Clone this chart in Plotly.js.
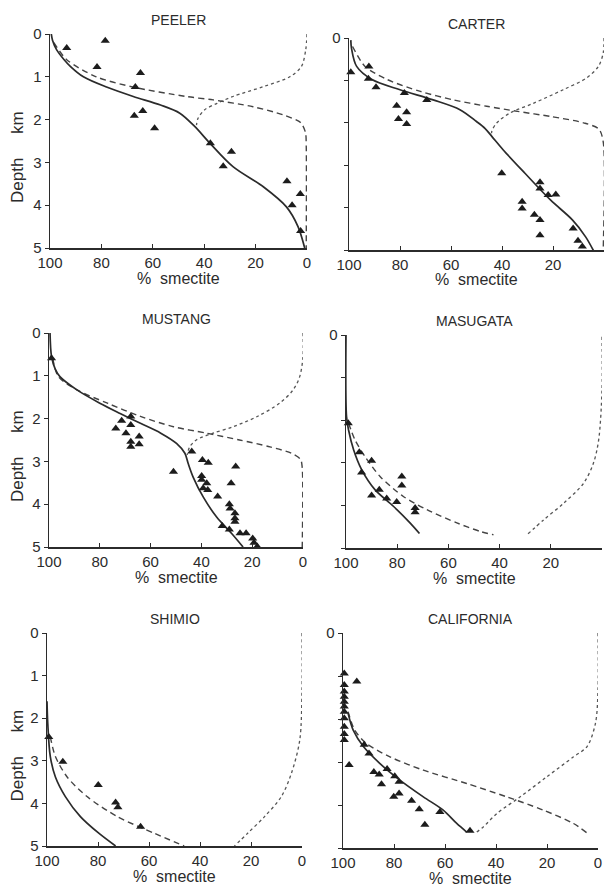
<!DOCTYPE html>
<html><head><meta charset="utf-8">
<script src="https://cdn.plot.ly/plotly-3.0.1.min.js"></script>
<style>html,body{margin:0;padding:0;background:#fff}</style>
</head><body><div id="chart" style="width:606px;height:886px"></div>
<script>
// ---------- data ----------
const panelNames = ["PEELER","CARTER","MUSTANG","MASUGATA","SHIMIO","CALIFORNIA"];
const pctTicks = [100,80,60,40,20,0];
const pctTickText = ["100","80","60","40","20","0"];
const depthTicks = [0,1,2,3,4,5];
const depthTickText = ["0","1","2","3","4","5"];
const xAxisLabel = "%\u00a0\u00a0smectite";
const yAxisLabel = "Depth\u00a0\u00a0\u00a0\u00a0\u00a0km";

const peelerPtsPct   = [93.5, 78.5, 81.7, 64.8, 66.8, 63.9, 67.2, 59.3, 37.6, 29.4, 32.6, 7.8, 2.6, 5.8, 2.5];
const peelerPtsDepth = [0.33, 0.16, 0.77, 0.91, 1.24, 1.80, 1.91, 2.20, 2.55, 2.75, 3.09, 3.44, 3.74, 4.00, 4.60];
const peelerSolidPct   = [99.5, 99, 97.4, 94.5, 92, 87, 78, 67.6, 57, 49.5, 43.7, 37.8, 28.8, 17, 8, 3.5, 0.9];
const peelerSolidDepth = [0, 0.15, 0.37, 0.6, 0.76, 1.0, 1.24, 1.46, 1.66, 1.85, 2.16, 2.55, 3.1, 3.57, 4.04, 4.5, 5.0];
const peelerDashPct   = [98.5, 93.5, 82, 67.6, 47, 36.5, 21, 9.3, 2.5, 0.6, 0.3, 0.3];
const peelerDashDepth = [0.2, 0.6, 1.0, 1.24, 1.46, 1.54, 1.7, 1.89, 2.07, 2.3, 2.6, 5.0];
const peelerDotPct   = [0, 0.5, 2.2, 6.7, 17, 28.8, 35, 39.8, 42.4, 43];
const peelerDotDepth = [0, 0.37, 0.76, 1.0, 1.23, 1.46, 1.62, 1.77, 1.97, 2.13];

const carterPtsPct   = [92.2, 99.3, 92.4, 89.4, 78.3, 69.5, 81.3, 77.4, 80.6, 77.4, 40.1, 25.1, 25.1, 21.9, 18.9, 32.1, 32.1, 27.3, 25.1, 25.1, 12.1, 10.2, 8.5, 6.3, 4.6];
const carterPtsDepth = [0.67, 0.81, 0.96, 1.16, 1.30, 1.46, 1.60, 1.75, 1.91, 2.03, 3.19, 3.40, 3.55, 3.70, 3.69, 3.86, 4.02, 4.17, 4.29, 4.65, 4.49, 4.78, 4.92, 5.08, 5.24];
const carterSolidPct   = [99.3, 99, 97, 91, 80, 67, 56.5, 50, 46.7, 44, 39.5, 31, 21, 12.4, 7.2, 3.9];
const carterSolidDepth = [0.05, 0.25, 0.67, 0.98, 1.22, 1.46, 1.69, 1.97, 2.13, 2.32, 2.64, 3.19, 3.82, 4.29, 4.69, 5.04];
const carterDashPct   = [98.6, 93.7, 85, 72, 59, 46, 34, 21, 8, 2, 0.3, 0.3];
const carterDashDepth = [0.2, 0.67, 0.98, 1.26, 1.46, 1.61, 1.73, 1.85, 2.0, 2.15, 2.45, 5.0];
const carterDotPct   = [0, 0.3, 2.2, 6.8, 16, 27.7, 36.9, 42, 44, 44];
const carterDotDepth = [0, 0.35, 0.67, 0.94, 1.22, 1.54, 1.77, 2.0, 2.2, 2.32];

const mustangPtsPct   = [99, 67.8, 71.4, 67.8, 73.7, 69.7, 64.5, 67.8, 64.5, 67.8, 43.8, 39.6, 37.3, 26.5, 51, 39.9, 39.9, 37.9, 28.3, 39.3, 37.5, 33.6, 29, 28.7, 26.8, 26.8, 26.8, 31.8, 29, 24.8, 22.4, 19.8, 19.3, 18, 22.8, 20.2];
const mustangPtsDepth = [0.59, 1.95, 2.05, 2.15, 2.23, 2.34, 2.42, 2.54, 2.60, 2.66, 2.77, 2.97, 3.03, 3.12, 3.24, 3.34, 3.43, 3.51, 3.51, 3.63, 3.67, 3.82, 4.0, 4.10, 4.21, 4.33, 4.41, 4.51, 4.59, 4.68, 4.68, 4.80, 4.90, 4.99, 5.15, 5.23];
const mustangSolidPct   = [99.6, 99, 97.5, 95.7, 89, 80, 72, 64, 56, 49.8, 46.5, 45.2, 43.3, 39.3, 34, 28, 23.6];
const mustangSolidDepth = [0, 0.55, 0.85, 1.02, 1.33, 1.64, 1.88, 2.11, 2.34, 2.58, 2.81, 3.05, 3.36, 3.83, 4.3, 4.69, 5.0];
const mustangDashPct   = [98.5, 96.3, 89, 77, 64, 51, 38, 25, 13, 4.6, 1, 0.3, 0.3];
const mustangDashDepth = [0.6, 1.02, 1.33, 1.64, 1.95, 2.19, 2.34, 2.5, 2.66, 2.81, 2.95, 3.15, 5.0];
const mustangDotPct   = [0, 0, 1.3, 3.9, 9.2, 18, 27.5, 35.4, 42, 44.6, 45.6];
const mustangDotDepth = [0, 0.55, 1.02, 1.33, 1.64, 1.95, 2.19, 2.34, 2.5, 2.66, 2.85];

const masugataPtsPct   = [99.1, 94.8, 90, 93.9, 78.2, 78.2, 87, 90, 84.1, 80.2, 73, 73];
const masugataPtsDepth = [2.07, 2.75, 2.95, 3.23, 3.32, 3.53, 3.63, 3.77, 3.84, 3.92, 4.06, 4.16];
const masugataSolidPct   = [100, 99.8, 99, 97, 93.9, 88.7, 81.5, 75, 71.3];
const masugataSolidDepth = [0, 1.91, 2.23, 2.7, 3.16, 3.63, 4.02, 4.41, 4.66];
const masugataDashPct   = [99, 96.5, 92.6, 86.7, 77.6, 68.4, 56.7, 47.6, 42.4];
const masugataDashDepth = [2.07, 2.46, 2.85, 3.32, 3.79, 4.1, 4.41, 4.61, 4.69];
const masugataDotPct   = [0, 0, 1.3, 3.3, 7.2, 15, 22.8, 29.3];
const masugataDotDepth = [0.04, 1.29, 2.46, 3.0, 3.48, 3.95, 4.34, 4.69];

const shimioPtsPct   = [99.3, 93.8, 79.9, 73.1, 72.2, 63.3, 52.1, 41.2];
const shimioPtsDepth = [2.44, 3.02, 3.57, 3.98, 4.09, 4.55, 5.02, 5.13];
const shimioSolidPct   = [100, 99.7, 98.7, 96.7, 92.8, 86.9, 79.7, 73.1];
const shimioSolidDepth = [1.6, 2.12, 2.9, 3.38, 3.84, 4.31, 4.7, 5.0];
const shimioDashPct   = [98.7, 96.7, 92.1, 84.3, 72.4, 58, 46.2];
const shimioDashDepth = [2.44, 2.9, 3.38, 3.84, 4.31, 4.7, 5.0];
const shimioDotPct   = [0, 0, 0.9, 4.2, 8.1, 14.7, 21.3, 26.5];
const shimioDotDepth = [0, 1.34, 2.52, 3.3, 3.84, 4.31, 4.7, 5.0];

const californiaPtsPct   = [99.5, 99.5, 99.5, 99.5, 99.5, 99.5, 99.5, 99.5, 99.5, 99.5, 99.5, 94.6, 97.6, 91.7, 89.8, 87.9, 85.8, 82.7, 84.9, 79.7, 78, 78, 80.1, 73.1, 70.1, 62, 67.9, 50.2];
const californiaPtsDepth = [0.94, 1.21, 1.36, 1.48, 1.60, 1.71, 1.83, 1.98, 2.18, 2.35, 2.49, 1.13, 3.07, 2.60, 2.80, 3.23, 3.29, 3.16, 3.52, 3.33, 3.46, 3.73, 3.81, 3.90, 4.10, 4.16, 4.46, 4.60];
const californiaSolidPct   = [98, 96, 92, 85.6, 77.7, 68.5, 60.7, 55.4, 51.5];
const californiaSolidDepth = [1.87, 2.26, 2.64, 3.03, 3.42, 3.81, 4.12, 4.43, 4.63];
const californiaDashPct   = [98, 95.4, 90.8, 81.6, 68.5, 51.5, 35.8, 21.4, 9.6, 4.3];
const californiaDashDepth = [1.83, 2.26, 2.57, 2.88, 3.19, 3.5, 3.81, 4.12, 4.43, 4.65];
const californiaDotPct   = [0, 0, 1, 4.3, 9.6, 20, 30.5, 39.7, 45, 47.6];
const californiaDotDepth = [0, 1.32, 2.1, 2.64, 2.88, 3.34, 3.81, 4.2, 4.51, 4.63];

// ---------- assembly ----------
const panelData = [
  [peelerPtsPct, peelerPtsDepth, peelerSolidPct, peelerSolidDepth, peelerDashPct, peelerDashDepth, peelerDotPct, peelerDotDepth],
  [carterPtsPct, carterPtsDepth, carterSolidPct, carterSolidDepth, carterDashPct, carterDashDepth, carterDotPct, carterDotDepth],
  [mustangPtsPct, mustangPtsDepth, mustangSolidPct, mustangSolidDepth, mustangDashPct, mustangDashDepth, mustangDotPct, mustangDotDepth],
  [masugataPtsPct, masugataPtsDepth, masugataSolidPct, masugataSolidDepth, masugataDashPct, masugataDashDepth, masugataDotPct, masugataDotDepth],
  [shimioPtsPct, shimioPtsDepth, shimioSolidPct, shimioSolidDepth, shimioDashPct, shimioDashDepth, shimioDotPct, shimioDotDepth],
  [californiaPtsPct, californiaPtsDepth, californiaSolidPct, californiaSolidDepth, californiaDashPct, californiaDashDepth, californiaDotPct, californiaDotDepth]
];

// plot boxes in pixels: [left, right, top, bottom]
const boxes = [
  [50, 307, 34, 248],
  [349, 604, 38, 250],
  [49, 303, 333, 547],
  [346, 602, 335, 548],
  [47, 302, 633, 846],
  [343, 598, 633, 848]
];
const W = 606, H = 886;
const FONT = "Liberation Sans, Arial, sans-serif";
const INK = "#2b2b2b";

const traces = [];
const layout = {
  width: W, height: H,
  margin: {l:0, r:0, t:0, b:0},
  paper_bgcolor: "#fff", plot_bgcolor: "#fff",
  showlegend: false,
  font: {family: FONT, color: INK, size: 14},
  annotations: []
};

boxes.forEach((b, i) => {
  const n = i + 1;
  const xa = n === 1 ? "x" : "x" + n;
  const ya = n === 1 ? "y" : "y" + n;
  const [pp, pd, sp, sd, dp, dd, tp, td] = panelData[i];
  const common = {xaxis: xa, yaxis: ya, cliponaxis: false, hoverinfo: "skip"};
  traces.push(Object.assign({type: "scatter", mode: "lines", x: tp, y: td,
    line: {color: "#555", width: 1.3, dash: "dot", shape: "spline", smoothing: 0.9}}, common));
  traces.push(Object.assign({type: "scatter", mode: "lines", x: dp, y: dd,
    line: {color: "#444", width: 1.4, dash: "6px,4px", shape: "spline", smoothing: 0.8}}, common));
  traces.push(Object.assign({type: "scatter", mode: "lines", x: sp, y: sd,
    line: {color: INK, width: 1.7, shape: "spline", smoothing: 0.9}}, common));
  traces.push(Object.assign({type: "scatter", mode: "markers", x: pp, y: pd,
    marker: {symbol: "triangle-up", size: 8, color: "#1c1c1c"}}, common));

  const left = (i % 2 === 0);
  const key = n === 1 ? "" : String(n);
  layout["xaxis" + key] = {
    domain: [b[0] / W, b[1] / W], anchor: ya,
    range: [100, 0], showgrid: false, zeroline: false,
    showline: true, linecolor: INK, linewidth: 1.5,
    ticks: "inside", ticklen: 4, tickwidth: 1, tickcolor: INK,
    tickmode: "array", tickvals: pctTicks, ticktext: pctTickText,
    tickfont: {family: FONT, size: 15, color: INK}
  };
  layout["yaxis" + key] = {
    domain: [1 - b[3] / H, 1 - b[2] / H], anchor: xa,
    range: [5, 0], showgrid: false, zeroline: false,
    showline: true, linecolor: INK, linewidth: 1.5,
    ticks: "outside", ticklen: 4, tickwidth: 1, tickcolor: INK,
    tickmode: "array", tickvals: depthTicks,
    ticktext: left ? depthTickText : depthTickText.map((t, k) => k === 0 ? t : ""),
    tickfont: {family: FONT, size: 15, color: INK}
  };

  // panel title
  layout.annotations.push({
    xref: "paper", yref: "paper", x: (b[0] + b[1]) / 2 / W, y: 1 - (b[2] - 14) / H,
    text: panelNames[i], showarrow: false, xanchor: "center", yanchor: "middle",
    font: {family: FONT, size: 14, color: INK}
  });
  // x axis title
  layout.annotations.push({
    xref: "paper", yref: "paper", x: (b[0] + b[1]) / 2 / W, y: 1 - (b[3] + 30) / H,
    text: xAxisLabel, showarrow: false, xanchor: "center", yanchor: "middle",
    font: {family: FONT, size: 16, color: INK}
  });
  // y axis title (left column only)
  if (left) {
    layout.annotations.push({
      xref: "paper", yref: "paper", x: 17 / W, y: 1 - ((b[2] + b[3]) / 2 + 16) / H,
      text: yAxisLabel, showarrow: false, textangle: -90, xanchor: "center", yanchor: "middle",
      font: {family: FONT, size: 17, color: INK}
    });
  }
});

Plotly.newPlot("chart", traces, layout, {staticPlot: true, displayModeBar: false});
</script>
</body></html>
